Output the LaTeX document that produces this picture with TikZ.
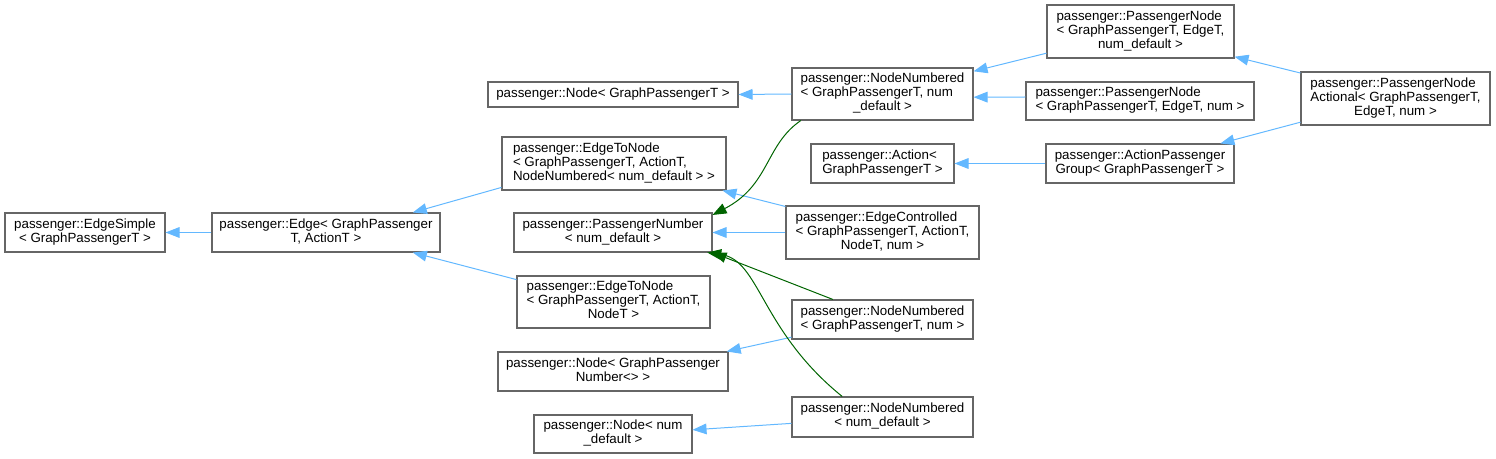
\documentclass[tikz,border=0pt]{standalone}
\usepackage{fontspec}
\setmainfont{Liberation Sans}
\usetikzlibrary{arrows.meta}
\definecolor{Ic}{HTML}{63B8FF}
\definecolor{Tc}{HTML}{006400}
\definecolor{Bc}{HTML}{666666}
\tikzset{
  cls/.style={rectangle, draw=Bc, line width=0.8pt, fill=white, inner sep=0pt,
    font=\fontsize{10}{10.5}\selectfont},
  inh/.style={-{Triangle[length=10.5pt, width=8pt]}, Ic, line width=0.75pt},
  tmpl/.style={-{Triangle[length=10.5pt, width=8pt]}, Tc, line width=0.75pt},
}
\newcommand{\dlab}[2]{\begin{tabular}{@{}l@{}}#1\\\multicolumn{1}{@{}c@{}}{#2}\end{tabular}}
\newcommand{\klass}[6]{% name, x0, y0, x1, y1 (pixels), label
  \pgfmathsetmacro{\kw}{(#4-#2)*0.75}\pgfmathsetmacro{\kh}{(#5-#3)*0.75}%
  \node[cls, minimum width=\kw pt, minimum height=\kh pt] (#1) at ({(#2+#4)/2},{-(#3+#5)/2}) {#6};}

\begin{document}
\begin{tikzpicture}[x=0.75pt, y=0.75pt]
  \useasboundingbox (0,0) rectangle (1496,-459);
  % left column
  \klass{es}{5}{213}{165}{252}{\dlab{passenger::EdgeSimple}{< GraphPassengerT >}}
  \klass{edge}{212}{213}{440}{252}{\dlab{passenger::Edge< GraphPassenger}{T, ActionT >}}
  % middle column
  \klass{ngpt}{488}{82}{738}{107}{passenger::Node< GraphPassengerT >}
  \klass{etnnn}{502}{137}{726}{190}{\dlab{passenger::EdgeToNode\\< GraphPassengerT, ActionT,}{NodeNumbered< num\_default > >}}
  \klass{pnum}{514}{213}{712}{252}{\dlab{passenger::PassengerNumber}{< num\_default >}}
  \klass{etnt}{517}{276}{710}{328}{\dlab{passenger::EdgeToNode\\< GraphPassengerT, ActionT,}{NodeT >}}
  \klass{ngpn}{498}{352}{728}{391}{\dlab{passenger::Node< GraphPassenger}{Number<> >}}
  \klass{nnum}{534}{415}{692}{453}{\dlab{passenger::Node< num}{\_default >}}
  % right of middle
  \klass{nngptd}{792}{68}{973}{120}{\dlab{passenger::NodeNumbered\\< GraphPassengerT, num}{\_default >}}
  \klass{act}{811}{144}{954}{183}{\dlab{passenger::Action<}{GraphPassengerT >}}
  \klass{ectl}{786}{206}{979}{259}{\dlab{passenger::EdgeControlled\\< GraphPassengerT, ActionT,}{NodeT, num >}}
  \klass{nngpn}{792}{300}{973}{339}{\dlab{passenger::NodeNumbered}{< GraphPassengerT, num >}}
  \klass{nnd}{792}{397}{973}{437}{\dlab{passenger::NodeNumbered}{< num\_default >}}
  \klass{pnd}{1047}{5}{1234}{58}{\dlab{passenger::PassengerNode\\< GraphPassengerT, EdgeT,}{num\_default >}}
  \klass{pnn}{1026}{82}{1254}{120}{\dlab{passenger::PassengerNode}{< GraphPassengerT, EdgeT, num >}}
  \klass{apg}{1046}{144}{1234}{183}{\dlab{passenger::ActionPassenger}{Group< GraphPassengerT >}}
  \klass{pna}{1301}{72}{1490}{125}{\dlab{passenger::PassengerNode\\Actional< GraphPassengerT,}{EdgeT, num >}}
  % inheritance
  \draw[inh] (edge.west) -- (es.east);
  \draw[inh] (etnnn.192) -- (edge.13);
  \draw[inh] (etnt.167) -- (edge.-13);
  \draw[inh] (nngptd.west) -- (ngpt.east);
  \draw[inh] (pnd.193) -- (nngptd.14);
  \draw[inh] (pnn.178) -- (nngptd.-2);
  \draw[inh] (pna.165) -- (pnd.-15);
  \draw[inh] (pna.194) -- (apg.14);
  \draw[inh] (apg.west) -- (act.east);
  \draw[inh] (ectl.165) -- (etnnn.-14);
  \draw[inh] (ectl.west) -- (pnum.east);
  \draw[inh] (nngpn.191) -- (ngpn.10);
  \draw[inh] (nnd.184) -- (nnum.3);
  % template instances
  \draw[tmpl] (nngptd.198) .. controls (765,-145) and (770,-185) .. (pnum.10);
  \draw[tmpl] (nngpn.158) -- (pnum.south east);
  \draw[tmpl] (nnd.153) .. controls (760,-330) and (760,-260) .. (pnum.-12);
\end{tikzpicture}
\end{document}
